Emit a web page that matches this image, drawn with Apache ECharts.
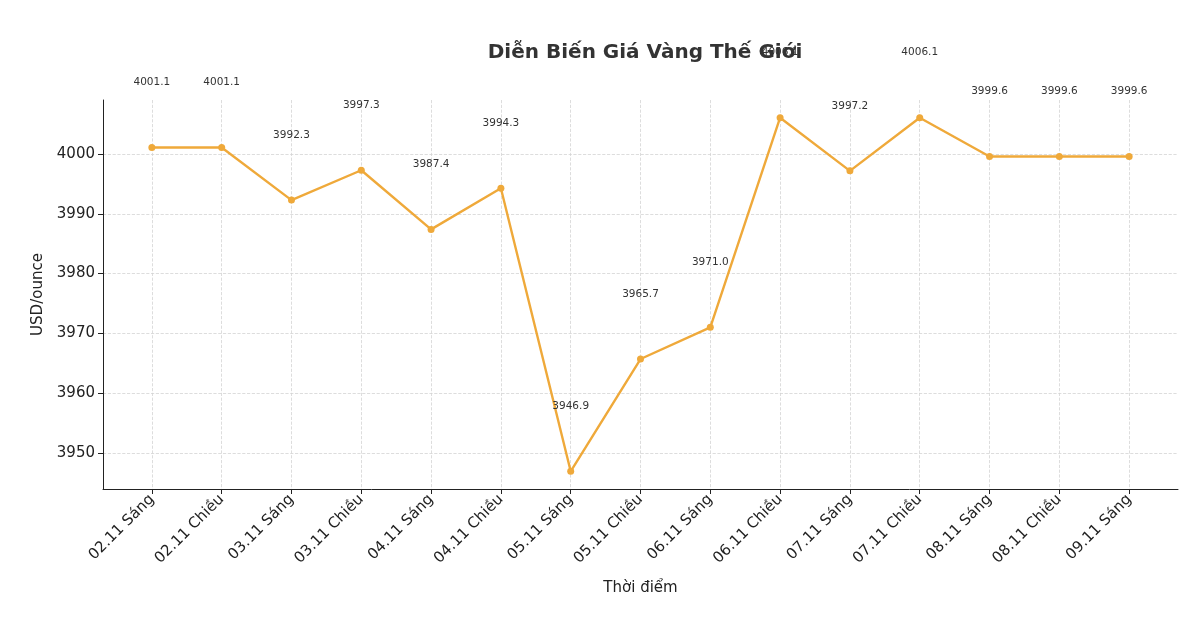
<!DOCTYPE html>
<html>
<head>
<meta charset="utf-8">
<script src="https://cdn.jsdelivr.net/npm/echarts@6/dist/echarts.min.js"></script>
<style>html,body{margin:0;padding:0;background:#fff}#chart{width:1204px;height:630px}</style>
</head>
<body>
<div id="chart"></div>
<script>
const categories = ['02.11 Sáng', '02.11 Chiều', '03.11 Sáng', '03.11 Chiều', '04.11 Sáng', '04.11 Chiều',
    '05.11 Sáng', '05.11 Chiều', '06.11 Sáng', '06.11 Chiều', '07.11 Sáng', '07.11 Chiều',
    '08.11 Sáng', '08.11 Chiều', '09.11 Sáng'];
const prices = [4001.1, 4001.1, 3992.3, 3997.3, 3987.4, 3994.3, 3946.9, 3965.7, 3971.0, 4006.1, 3997.2, 4006.1, 3999.6, 3999.6, 3999.6];
const yTicks = [3950, 3960, 3970, 3980, 3990, 4000];

window.onload = function () {
    let chart = echarts.init(document.querySelector('#chart'));
    let idx = categories.map((c, i) => i);
    let gridLine = { show: true, lineStyle: { color: '#d4d4d4', type: 'dashed', width: 0.8 } };
    let option = {
        title: {
            text: 'Diễn Biến Giá Vàng Thế Giới',
            left: 640, top: 38, textAlign: 'center',
            textStyle: { fontFamily: 'DejaVu Sans', fontSize: 20, fontWeight: 'bold', color: '#333' }
        },
        grid: { left: 103, right: 26, top: 100, bottom: 141 },
        xAxis: {
            type: 'value', min: -0.7, max: 14.7,
            name: 'Thời điểm', nameLocation: 'middle', nameGap: 92,
            nameTextStyle: { fontFamily: 'DejaVu Sans', fontSize: 15, color: '#222' },
            axisLine: { show: true, onZero: false, lineStyle: { color: '#222' } },
            axisTick: { show: true, customValues: idx, lineStyle: { color: '#222' } },
            splitLine: Object.assign({ customValues: idx }, gridLine),
            axisLabel: {
                customValues: idx, rotate: 45, fontFamily: 'DejaVu Sans', fontSize: 15, color: '#222',
                formatter: v => categories[Math.round(v)]
            }
        },
        yAxis: {
            type: 'value', min: 3943.94, max: 4009.06,
            name: 'USD/ounce', nameLocation: 'middle', nameGap: 55,
            nameTextStyle: { fontFamily: 'DejaVu Sans', fontSize: 15, color: '#222' },
            axisLine: { show: true, onZero: false, lineStyle: { color: '#222' } },
            axisTick: { show: true, customValues: yTicks, lineStyle: { color: '#222' } },
            splitLine: Object.assign({ customValues: yTicks }, gridLine),
            axisLabel: { customValues: yTicks, fontFamily: 'DejaVu Sans', fontSize: 15, color: '#222',
                formatter: v => String(v) }
        },
        series: [{
            type: 'line',
            data: prices.map((p, i) => [i, p]),
            color: '#EFA93A',
            lineStyle: { width: 2.4 },
            symbol: 'circle', symbolSize: 7,
            label: {
                show: true, position: 'top', distance: 56,
                fontFamily: 'DejaVu Sans', fontSize: 10.5, color: '#333',
                formatter: p => p.value[1].toFixed(1)
            },
            z: 3
        }]
    };
    chart.setOption(option);
};
</script>
</body>
</html>
